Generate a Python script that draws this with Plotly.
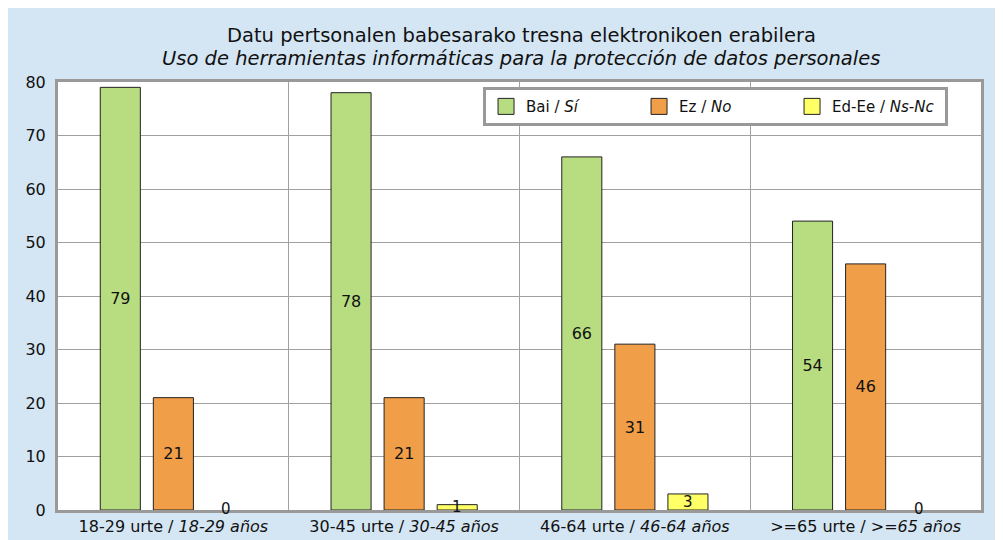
import plotly.graph_objects as go

categories = ["18-29 urte / <i>18-29 años</i>", "30-45 urte / <i>30-45 años</i>",
              "46-64 urte / <i>46-64 años</i>", ">=65 urte / <i>>=65 años</i>"]
series_names = ["Bai / <i>Sí</i>", "Ez / <i>No</i>", "Ed-Ee / <i>Ns-Nc</i>"]
si_values = [79, 78, 66, 54]
no_values = [21, 21, 31, 46]
nsnc_values = [0, 1, 3, 0]
colors = ["#B8DD80", "#F09E48", "#FFFF66"]
y_ticks = [0, 10, 20, 30, 40, 50, 60, 70, 80]
title_eu = "Datu pertsonalen babesarako tresna elektronikoen erabilera"
title_es = "<i>Uso de herramientas informáticas para la protección de datos personales</i>"

FONT = "DejaVu Sans, Liberation Sans, Arial, sans-serif"
TXT = "#111111"
EDGE = "#222222"

fig = go.Figure()
for i, (name, vals, col) in enumerate(zip(series_names, [si_values, no_values, nsnc_values], colors)):
    show_text = i < 2
    fig.add_trace(go.Bar(
        name=name, x=categories, y=vals, legendgroup=name, showlegend=False,
        marker=dict(color=col, line=dict(color=EDGE, width=[1 if v > 0 else 0 for v in vals])),
        text=[str(v) for v in vals] if show_text else None,
        textposition="inside" if show_text else "none",
        insidetextanchor="middle", textangle=0,
        textfont=dict(family=FONT, size=16, color=TXT),
        hoverinfo="skip",
    ))
# legend entries (square swatch with outline)
for name, col in zip(series_names, colors):
    fig.add_trace(go.Scatter(name=name, x=[categories[0]], y=[None], legendgroup=name,
                             mode="markers", showlegend=True,
                             marker=dict(symbol="square", size=18, color=col,
                                         line=dict(color=EDGE, width=1)),
                             hoverinfo="skip"))

# labels for the small third series (centred on bar, as in the reference)
for cat, v in zip(categories, nsnc_values):
    fig.add_annotation(x=cat, y=v / 2, xref="x", yref="y", text=str(v),
                       showarrow=False, xshift=53, yshift=1 if v == 0 else 0,
                       font=dict(family=FONT, size=15, color=TXT))

fig.add_annotation(text=title_eu, xref="paper", yref="paper", x=0.502, y=1.108,
                   xanchor="center", yanchor="middle", showarrow=False,
                   font=dict(family=FONT, size=19.5, color=TXT))
fig.add_annotation(text=title_es, xref="paper", yref="paper", x=0.502, y=1.055,
                   xanchor="center", yanchor="middle", showarrow=False,
                   font=dict(family=FONT, size=19.5, color=TXT))

fig.update_layout(
    width=1003, height=540,
    margin=dict(l=50, r=30, t=74, b=36),
    paper_bgcolor="#D4E6F4", plot_bgcolor="white",
    barmode="group", bargap=0.31, bargroupgap=0.245,
    font=dict(family=FONT, size=14, color=TXT),
    legend=dict(orientation="h", x=0.4605, y=0.988, xanchor="left", yanchor="top",
                bgcolor="white", bordercolor="#999999", borderwidth=3,
                font=dict(family=FONT, size=15, color=TXT),
                entrywidth=108, entrywidthmode="pixels",
                traceorder="normal"),
    showlegend=True,
)
fig.update_xaxes(tickson="boundaries", showgrid=True, gridcolor="#A0A0A0", gridwidth=1,
                 showline=True, mirror=True, linecolor="#999999", linewidth=3,
                 ticks="", tickfont=dict(family=FONT, size=16, color=TXT))
fig.update_yaxes(range=[0, 80], tickvals=y_ticks, showgrid=True, gridcolor="#A0A0A0", gridwidth=1,
                 showline=True, mirror=True, linecolor="#999999", linewidth=3,
                 ticks="", zeroline=False, ticklabelstandoff=6,
                 tickfont=dict(family=FONT, size=16, color=TXT))

fig.write_html("out.html")
